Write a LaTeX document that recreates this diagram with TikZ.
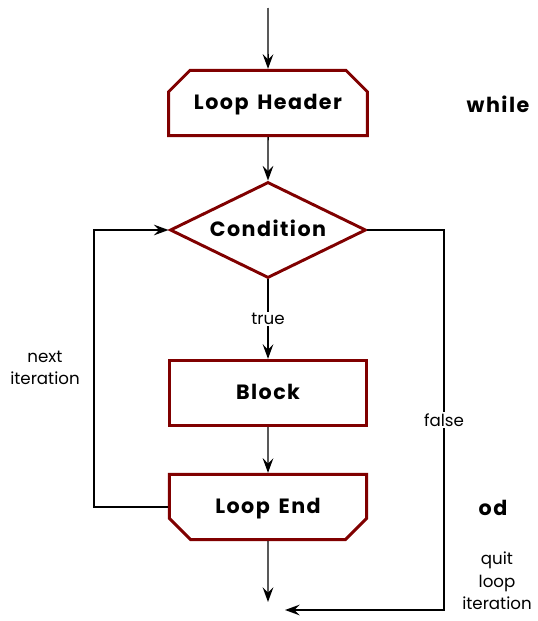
\documentclass[tikz,border=0pt]{standalone}
\usepackage{fontspec}
\setmainfont{Poppins}
\newfontfamily\spacedfont[LetterSpace=7,WordSpace=1.5]{Poppins}
\usetikzlibrary{shapes.misc,shapes.geometric,arrows.meta}
\definecolor{boxred}{RGB}{128,0,0}
\begin{document}
\begin{tikzpicture}[x=.75pt,y=-.75pt,
 box/.style={draw=boxred,line width=2.2pt,minimum width=148pt,minimum height=49pt,
  inner sep=0pt,text height=10pt,text depth=0pt,font=\spacedfont\bfseries\fontsize{15.5}{17}\selectfont},
 cut/.style={chamfered rectangle,chamfered rectangle xsep=12pt,chamfered rectangle ysep=11pt},
 lab/.style={font=\fontsize{12.5}{17}\selectfont,align=center,inner sep=1pt},
 key/.style={font=\spacedfont\bfseries\fontsize{15.5}{17}\selectfont},
 flow/.style={line width=1.1pt,-{Stealth[length=11pt,width=8pt,inset=4pt]}},
 ]
 \useasboundingbox (0,0) rectangle (537,621);
 \path
 (268,8) coordinate (in) % <<< vào
 (268,103) node[box,cut,chamfered rectangle corners={north west,north east},minimum width=149pt] (head) {Loop Header}
 (268,230) node[box,diamond,aspect=2,minimum width=147pt,minimum height=72pt] (cond) {Condition}
 (268,393) node[box] (block) {Block}
 (268,507) node[box,cut,chamfered rectangle corners={south west,south east}] (end) {Loop End}
 (268,602) coordinate (out) % <<< ra
 (285,610) coordinate (quit)
 (94,0) coordinate (left)
 (444,0) coordinate (right);
 \path
 (498,104) node[key] {while}
 (493,508) node[key] {od}
 (45,368) node[lab] {next\\iteration}
 (497,581) node[lab] {quit\\loop\\iteration};
 \draw[flow] (in)--(head);
 \draw[flow] (head)--(cond);
 \draw[flow] (cond)--node[lab,fill=white]{true}(block);
 \draw[flow] (block)--(end);
 \draw[flow] (end)--(out);
 \draw[flow] (end.west)-|(left|-cond.west)--(cond.west);
 \draw[flow] (cond.east)-|node[lab,fill=white,pos=.75]{false}(right|-quit)--(quit);
\end{tikzpicture}
\end{document}
